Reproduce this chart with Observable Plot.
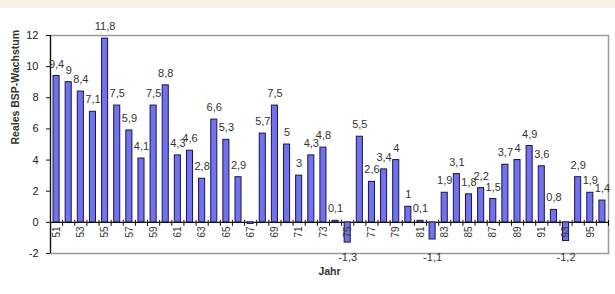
<!DOCTYPE html>
<html>
<head>
<meta charset="utf-8">
<script src="https://cdn.jsdelivr.net/npm/d3@7"></script>
<script src="https://cdn.jsdelivr.net/npm/@observablehq/plot@0.6"></script>
<style>
  html, body { margin: 0; padding: 0; background: #ffffff; }
  #band { height: 8px; background: #f5f3e6; }
  #chart svg { display: block; font-family: "Liberation Sans", Arial, sans-serif; }
</style>
</head>
<body>
<div id="band"></div>
<div id="chart"></div>
<script>
const years = d3.range(51, 97);
const values = [9.4, 9, 8.4, 7.1, 11.8, 7.5, 5.9, 4.1, 7.5, 8.8,
                4.3, 4.6, 2.8, 6.6, 5.3, 2.9, -0.1, 5.7, 7.5, 5,
                3, 4.3, 4.8, 0.1, -1.3, 5.5, 2.6, 3.4, 4, 1,
                0.1, -1.1, 1.9, 3.1, 1.8, 2.2, 1.5, 3.7, 4, 4.9,
                3.6, 0.8, -1.2, 2.9, 1.9, 1.4];
const hiddenLabels = [67];
const yTicks = [-2, 0, 2, 4, 6, 8, 10, 12];
const xTickYears = d3.range(51, 97, 2);

const data = years.map((y, i) => ({year: y, value: values[i]}));
const fmt = v => String(v).replace(".", ",");
const labeled = data.filter(d => !hiddenLabels.includes(d.year));
const boundaries = d3.range(50.5, 97, 1);

const chart = Plot.plot({
  width: 615,
  height: 286,
  marginLeft: 50,
  marginRight: 7,
  marginTop: 27,
  marginBottom: 41,
  x: {domain: [50.5, 96.5], axis: null},
  y: {domain: [-2, 12], axis: null},
  style: {fontFamily: "Liberation Sans, Arial, sans-serif", fontSize: "11px", color: "#222"},
  marks: [
    Plot.frame({stroke: "#9a9a9a", strokeWidth: 1.5}),
    Plot.ruleX([50.5], {stroke: "#111", strokeWidth: 1.2}),
    Plot.ruleY([0], {stroke: "#111", strokeWidth: 1.2}),
    Plot.ruleX(boundaries, {y1: 0, y2: 0, insetTop: -2, insetBottom: -4, stroke: "#111"}),
    Plot.rectY(data, {
      x1: d => d.year - 0.25, x2: d => d.year + 0.25, y: "value",
      fill: "#7272ee", stroke: "#16164a", strokeWidth: 1
    }),
    Plot.axisY({ticks: yTicks, tickSize: 4, tickPadding: 8, tickFormat: d => String(d), label: null, fontSize: 11, stroke: "#111"}),
    Plot.text(xTickYears, {
      x: d => d, y: 0, text: d => String(d), rotate: -90, textAnchor: "end",
      dy: 4, fontSize: 10, fill: "#333"
    }),
    Plot.text(labeled.filter(d => d.value >= 0), {
      x: "year", y: "value", text: d => fmt(d.value), dy: -12, fontSize: 11, fill: "#333"
    }),
    Plot.text(labeled.filter(d => d.value < 0), {
      x: "year", frameAnchor: "bottom", text: d => fmt(d.value), dy: 7, fontSize: 11, fill: "#333"
    }),
    Plot.text(["Reales BSP-Wachstum"], {
      frameAnchor: "left", dx: -35, rotate: -90, text: d => d, fontWeight: "bold", fontSize: 10.5, fill: "#333"
    }),
    Plot.text(["Jahr"], {
      frameAnchor: "bottom", dy: 21, text: d => d, fontWeight: "bold", fontSize: 10.5, fill: "#333"
    })
  ]
});
document.getElementById("chart").appendChild(chart);
</script>
</body>
</html>
